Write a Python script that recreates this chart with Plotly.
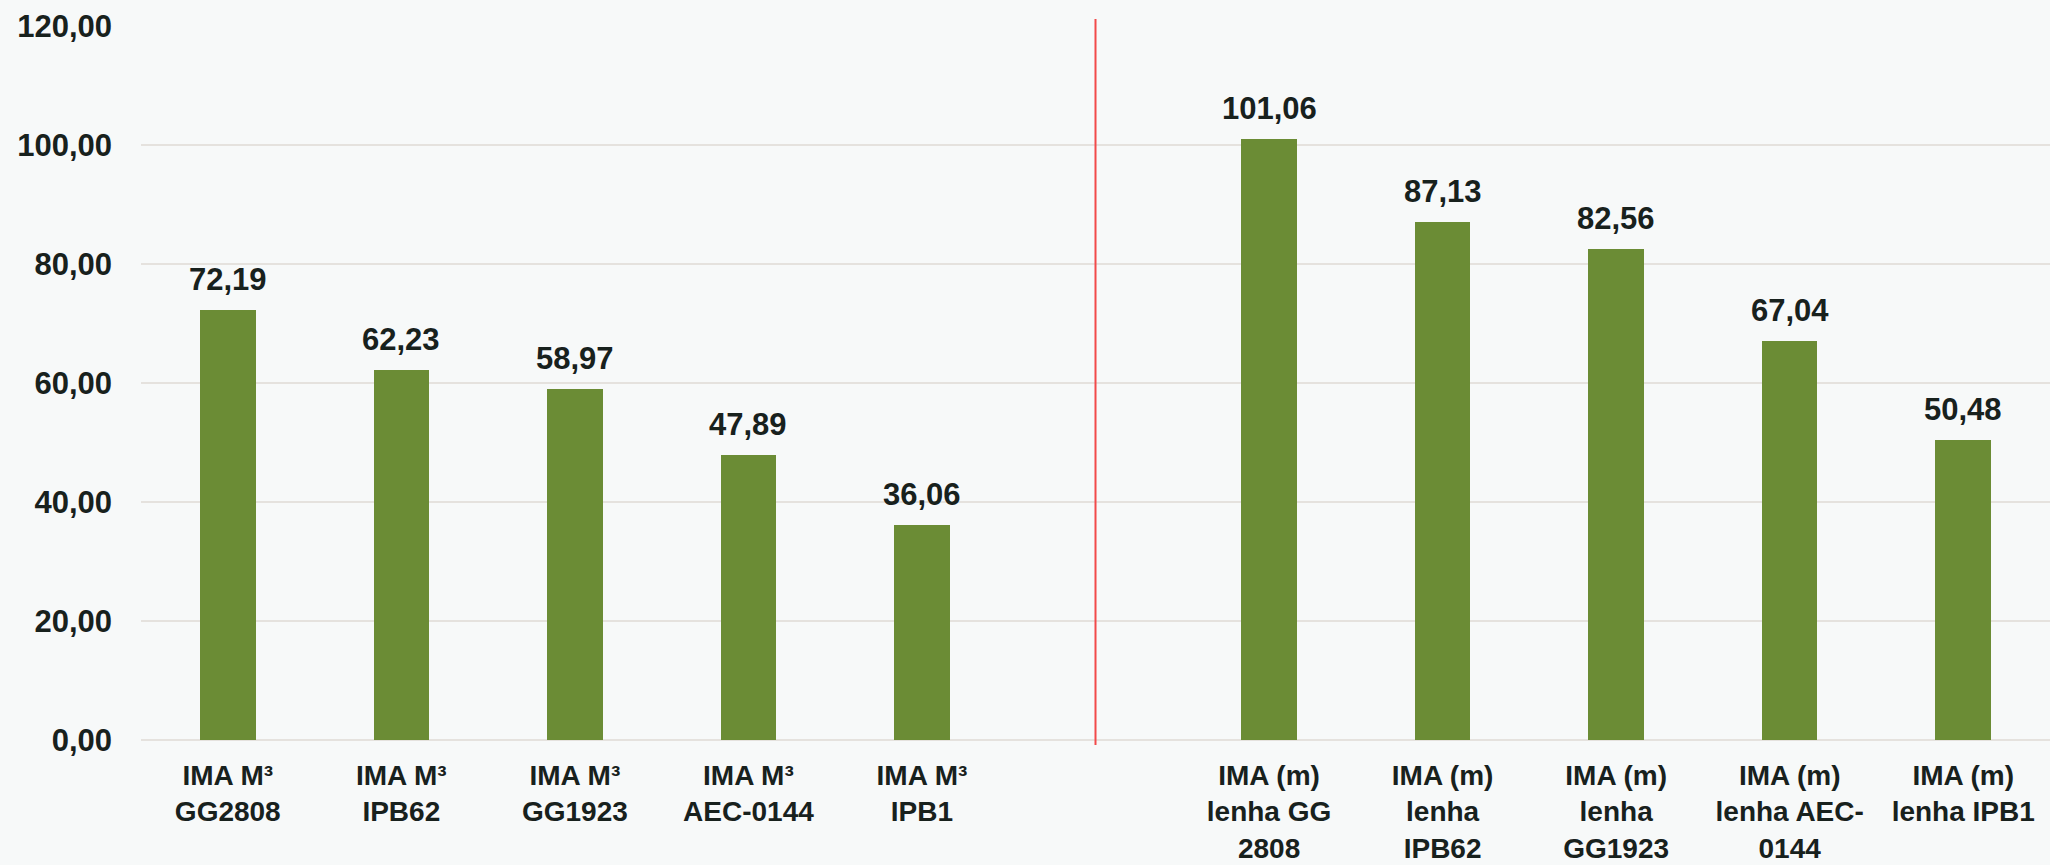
import plotly.graph_objects as go

# Data
left_categories = ["IMA M³<br>GG2808", "IMA M³<br>IPB62", "IMA M³<br>GG1923",
                   "IMA M³<br>AEC-0144", "IMA M³<br>IPB1"]
left_values = [72.19, 62.23, 58.97, 47.89, 36.06]
right_categories = ["IMA (m)<br>lenha GG<br>2808", "IMA (m)<br>lenha<br>IPB62",
                    "IMA (m)<br>lenha<br>GG1923", "IMA (m)<br>lenha AEC-<br>0144",
                    "IMA (m)<br>lenha IPB1"]
right_values = [101.06, 87.13, 82.56, 67.04, 50.48]
separator = " "
y_ticks = [0, 20, 40, 60, 80, 100, 120]

categories = left_categories + [separator] + right_categories
values = left_values + [None] + right_values

FONT = "Liberation Sans, Arial, sans-serif"
TEXT = "#18211d"
BAR = "#6B8C35"
BG = "#F7F9F9"
GRID = "#E5E2DE"

fig = go.Figure()
fig.add_trace(go.Bar(
    x=categories, y=values, width=0.32,
    marker=dict(color=BAR, line=dict(width=0)),
    hoverinfo="skip", showlegend=False,
))

for c, v in zip(categories, values):
    if v is None:
        continue
    fig.add_annotation(
        x=c, y=v, xref="x", yref="y", showarrow=False,
        text=f"{v:.2f}".replace(".", ","), yanchor="bottom", yshift=11,
        font=dict(family=FONT, size=31, color=TEXT, weight="bold"),
    )

fig.add_shape(type="line", xref="x", yref="paper", x0=separator, x1=separator,
              y0=-5 / 714, y1=1 + 7 / 714,
              line=dict(color="#F24A4A", width=2), layer="above")

fig.update_layout(
    width=2050, height=865,
    margin=dict(l=141, r=0, t=26, b=125, pad=0),
    paper_bgcolor=BG, plot_bgcolor=BG,
    separators=",.",
    bargap=0,
    font=dict(family=FONT, size=30, color=TEXT, weight="bold"),
    xaxis=dict(type="category", categoryorder="array", categoryarray=categories,
               tickmode="array", tickvals=left_categories + right_categories,
               ticktext=left_categories + right_categories,
               showgrid=False, showline=False, zeroline=False, ticks="",
               automargin=False,
               tickfont=dict(family=FONT, size=28, color=TEXT, weight="bold"),
               ticklabelstandoff=16),
    yaxis=dict(range=[0, 120], tickvals=y_ticks, tickformat=".2f",
               showgrid=True, gridcolor=GRID, gridwidth=2,
               zeroline=True, zerolinecolor=GRID, zerolinewidth=2,
               showline=False, ticks="", automargin=False,
               tickfont=dict(family=FONT, size=31, color=TEXT, weight="bold"),
               ticklabelstandoff=28),
)

fig.write_html(
    "out.html",
    config={"displayModeBar": False, "responsive": False},
    post_script="document.body.style.margin='0';"
                "document.body.style.background='#F7F9F9';"
                "document.body.style.overflow='hidden';",
)
